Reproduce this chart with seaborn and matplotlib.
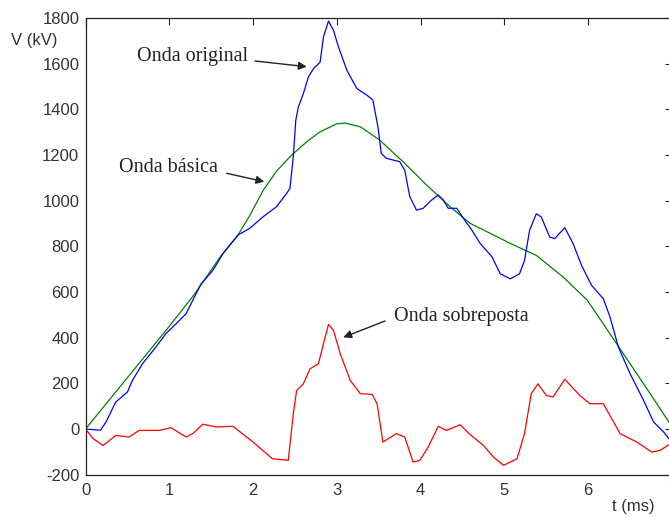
import matplotlib
matplotlib.use("Agg")
import matplotlib.pyplot as plt
import seaborn as sns
import pandas as pd

# ---- data ----
t_orig = [0, 0.18, 0.245, 0.36, 0.50, 0.56, 0.68, 0.84, 0.96, 1.08, 1.20, 1.32, 1.38, 1.52, 1.64, 1.82,
          1.96, 2.12, 2.28, 2.40, 2.44, 2.48, 2.51, 2.54, 2.60, 2.66, 2.72, 2.80, 2.84, 2.90, 2.96,
          3.02, 3.12, 3.24, 3.36, 3.43, 3.49, 3.53, 3.59, 3.75, 3.81, 3.87, 3.95, 4.03, 4.13, 4.21,
          4.27, 4.33, 4.43, 4.51, 4.61, 4.71, 4.85, 4.95, 5.07, 5.18, 5.24, 5.30, 5.38, 5.44, 5.54, 5.60,
          5.72, 5.82, 5.92, 6.04, 6.18, 6.26, 6.36, 6.50, 6.66, 6.78, 6.90, 7.0]
v_orig = [0, -5, 31, 118, 162, 213, 286, 359, 418, 461, 505, 593, 636, 695, 768, 850,
          879, 930, 974, 1032, 1054, 1193, 1353, 1410, 1469, 1542, 1578, 1607, 1717, 1787, 1746,
          1673, 1571, 1491, 1462, 1441, 1324, 1207, 1186, 1171, 1134, 1018, 959, 967, 1003, 1025,
          1003, 967, 967, 923, 872, 813, 755, 680, 658, 680, 739, 870, 943, 929, 841, 834,
          882, 812, 717, 629, 571, 491, 359, 242, 126, 31, -13, -60]

t_bas = [0, 0.5, 1.0, 1.3, 1.61, 1.82, 1.96, 2.12, 2.28, 2.46, 2.64, 2.80, 3.00, 3.10, 3.28, 3.51,
         3.79, 4.07, 4.35, 4.59, 4.87, 5.07, 5.38, 5.70, 5.99, 6.26, 6.50, 6.74, 7.0]
v_bas = [0, 225, 450, 590, 755, 850, 935, 1045, 1130, 1200, 1258, 1302, 1337, 1340, 1324, 1266,
         1171, 1069, 974, 901, 850, 813, 761, 666, 564, 417, 286, 155, 10]

t_sob = [0, 0.09, 0.21, 0.36, 0.52, 0.64, 0.88, 1.02, 1.20, 1.28, 1.40, 1.56, 1.76, 2.00, 2.23, 2.42,
         2.48, 2.52, 2.60, 2.68, 2.78, 2.84, 2.90, 2.96, 3.04, 3.16, 3.28, 3.42, 3.48, 3.55, 3.71, 3.81,
         3.91, 3.99, 4.09, 4.21, 4.31, 4.47, 4.59, 4.75, 4.87, 4.99, 5.15, 5.24, 5.32, 5.40, 5.50, 5.58,
         5.72, 5.90, 6.02, 6.18, 6.38, 6.58, 6.76, 6.86, 7.0]
v_sob = [0, -42, -72, -28, -35, -6, -6, 6, -35, -20, 21, 9, 12, -57, -130, -137,
         67, 169, 198, 264, 286, 374, 458, 432, 330, 213, 155, 152, 111, -57, -20, -35,
         -145, -137, -79, 12, -6, 19, -24, -72, -123, -159, -130, -20, 155, 198, 147, 140,
         218, 147, 111, 111, -20, -57, -101, -93, -60]

x_ticks = [0, 1, 2, 3, 4, 5, 6, 7]
y_ticks = [-200, 0, 200, 400, 600, 800, 1000, 1200, 1400, 1600, 1800]

sns.set_style("white")
plt.rcParams["font.family"] = ["Liberation Sans", "DejaVu Sans"]
plt.rcParams["axes.unicode_minus"] = False

fig = plt.figure(figsize=(6.69, 5.17), dpi=100)
ax = fig.add_axes([85.5 / 669, (517 - 474.7) / 517, 586.5 / 669, (474.7 - 18.1) / 517])

df_o = pd.DataFrame({"t": t_orig, "v": v_orig})
df_b = pd.DataFrame({"t": t_bas, "v": v_bas})
df_s = pd.DataFrame({"t": t_sob, "v": v_sob})
sns.lineplot(data=df_b, x="t", y="v", color="#008000", lw=0.9, ax=ax, sort=False)
sns.lineplot(data=df_o, x="t", y="v", color="#0000ff", lw=0.9, ax=ax, sort=False)
sns.lineplot(data=df_s, x="t", y="v", color="#ff0000", lw=0.9, ax=ax, sort=False)

ax.set_xlim(0, 7)
ax.set_ylim(-200, 1800)
ax.set_xticks(x_ticks)
ax.set_yticks(y_ticks)
ax.set_xlabel("")
ax.set_ylabel("")
ax.tick_params(direction="in", length=5, width=0.8, top=True, right=True,
               labelsize=12, colors="#222222")
ax.tick_params(axis="x", pad=6)
ax.tick_params(axis="y", pad=4.5)
ax.tick_params(axis="both", labelcolor="#333333")
for s in ax.spines.values():
    s.set_visible(True)
    s.set_color("#222222")
    s.set_linewidth(0.9)

fig.text(11 / 669, 1 - 40 / 517, "V (kV)", fontsize=12, color="#333333", va="center", ha="left")
fig.text(612 / 669, 1 - 507 / 517, "t (ms)", fontsize=12, color="#333333", va="center", ha="left")

serif = ["Liberation Serif", "DejaVu Serif"]
arrow = dict(arrowstyle="-|>", color="#222222", lw=1.0, mutation_scale=12, shrinkA=0, shrinkB=0)


def px(xp, yp):
    return (xp / 669, 1 - yp / 517)


labels = [
    ("Onda original", (192.5, 57), (255, 61), (306.7, 66.7)),
    ("Onda básica", (168, 167), (226.7, 173.3), (264.3, 181.7)),
    ("Onda sobreposta", (461, 317), (385, 321), (343.3, 337.3)),
]
for text, tpos, tail, head in labels:
    fig.text(*px(*tpos), text, ha="center", va="center", fontsize=14.5, family=serif, color="#222222")
    ax.annotate("", xy=px(*head), xycoords="figure fraction",
                xytext=px(*tail), textcoords="figure fraction", arrowprops=arrow)

fig.savefig("out.png", dpi=100)
